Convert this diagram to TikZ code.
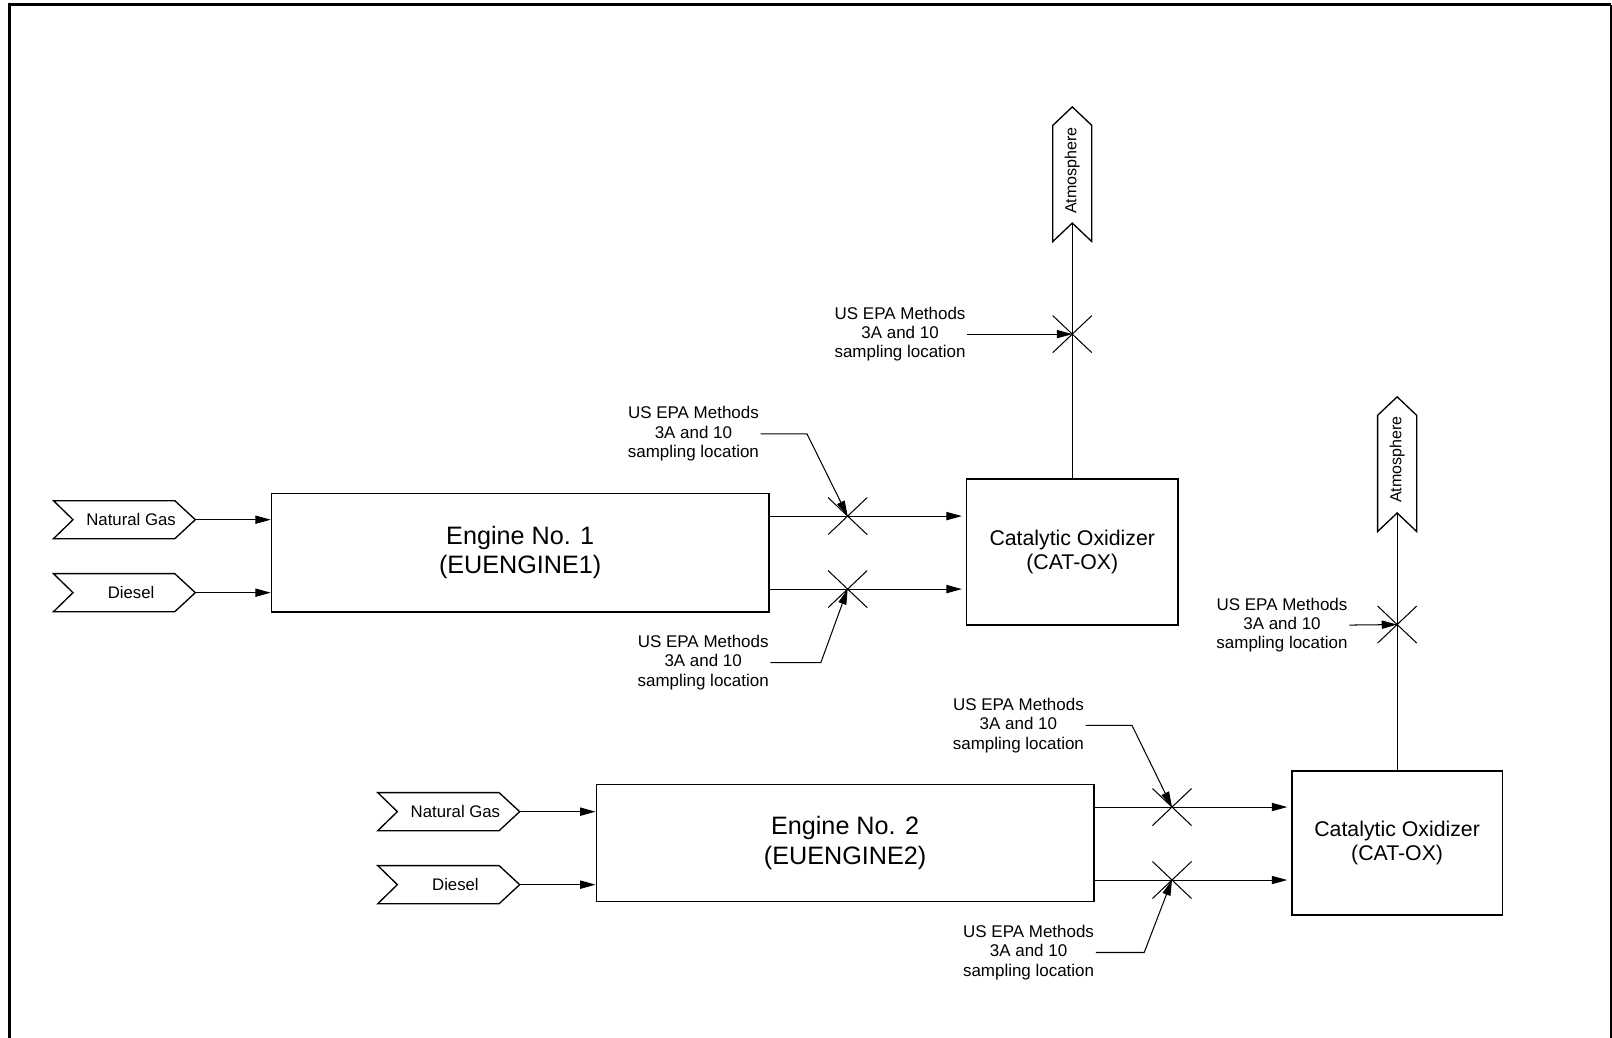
\documentclass[tikz,border=0pt]{standalone}
\usepackage{fontspec}
\setmainfont{Liberation Sans}
\usetikzlibrary{arrows.meta}
\tikzset{
  boxline/.style={draw=black, line width=1.3pt, line join=miter},
  box/.style={boxline, rectangle, inner sep=0pt, align=center},
  flow/.style={draw=black, line width=1pt, -{Triangle[length=15pt,width=8pt]}},
  leader/.style={draw=black, line width=1pt, -{Triangle[length=15pt,width=8pt]}},
  xline/.style={draw=black, line width=1pt},
  fueltext/.style={inner sep=0pt, font=\fontsize{16.3}{19}\selectfont},
  atmtext/.style={inner sep=0pt, rotate=90, font=\fontsize{15.6}{18}\selectfont},
  note/.style={inner sep=1.5pt, align=center, font=\fontsize{16.5}{18.8}\selectfont},
  bigtext/.style={font=\fontsize{24.5}{28.5}\selectfont},
  cattext/.style={font=\fontsize{20.7}{24}\selectfont},
}
\newcommand\fuelchev[4]{%
  \draw[boxline] (#2-69,#3-18.5) -- (#2+49,#3-18.5) -- (#2+69,#3) -- (#2+49,#3+18.5) -- (#2-69,#3+18.5) -- (#2-50,#3) -- cycle;
  \node[fueltext] (#1) at (#2+6.5,#3) {#4};
  \coordinate (#1-tip) at (#2+69,#3);}
\newcommand\atmshape[4]{%
  \draw[boxline] (#2,#3) -- (#2+19,#3+18) -- (#2+19,#3+131) -- (#2,#3+113) -- (#2-19,#3+131) -- (#2-19,#3+18) -- cycle;
  \node[atmtext] (#1) at (#2,#4) {Atmosphere};
  \coordinate (#1-base) at (#2,#3+113);}
\newcommand\xmk[3]{%
  \coordinate (#1) at (#2,#3);
  \draw[xline] (#2-19,#3-18) -- (#2+19,#3+18) (#2-19,#3+18) -- (#2+19,#3-18);}
\begin{document}
\begin{tikzpicture}[x=1pt,y=-1pt]
\useasboundingbox (0,0) rectangle (1568,1009);
% frame
\draw[line width=3pt] (9,1012) -- (9,4.5) -- (1567,4.5);
\draw[line width=2pt] (1567,4.5) -- (1567,1012);

% engines and oxidizers
\node[box, bigtext, minimum width=484pt, minimum height=115.5pt] (eng1) at (506,537.5) {Engine No. 1\\(EUENGINE1)};
\node[box, bigtext, minimum width=484pt, minimum height=114pt] (eng2) at (822,820) {Engine No. 2\\(EUENGINE2)};
\node[box, cattext, minimum width=205.5pt, minimum height=142pt] (cat1) at (1043,537) {Catalytic Oxidizer\\(CAT-OX)};
\node[box, cattext, minimum width=204.5pt, minimum height=140pt] (cat2) at (1359,820) {Catalytic Oxidizer\\(CAT-OX)};

% fuel inputs
\fuelchev{ng1}{121}{505.5}{Natural Gas}
\fuelchev{ds1}{121}{576.5}{Diesel}
\fuelchev{ng2}{436.5}{789.5}{Natural Gas}
\fuelchev{ds2}{436.5}{860.5}{Diesel}
\draw[flow] (ng1-tip) -- (ng1-tip -| eng1.west);
\draw[flow] (ds1-tip) -- (ds1-tip -| eng1.west);
\draw[flow] (ng2-tip) -- (ng2-tip -| eng2.west);
\draw[flow] (ds2-tip) -- (ds2-tip -| eng2.west);

% atmosphere outlets
\atmshape{atm1}{1043}{104}{166}
\atmshape{atm2}{1359}{386}{447}

% sampling points
\xmk{xa}{824.5}{502}
\xmk{xb}{824.5}{573}
\xmk{xc}{1043}{325}
\xmk{xd}{1140}{785}
\xmk{xe}{1140}{856}
\xmk{xf}{1359}{607.5}

% exhaust flows
\draw[flow, shorten >=4pt] (eng1.east |- xa) -- (xa -| cat1.west);
\draw[flow, shorten >=4pt] (eng1.east |- xb) -- (xb -| cat1.west);
\draw[flow, shorten >=4pt] (eng2.east |- xd) -- (xd -| cat2.west);
\draw[flow, shorten >=4pt] (eng2.east |- xe) -- (xe -| cat2.west);
\draw[xline] (cat1.north) -- (atm1-base);
\draw[xline] (cat2.north) -- (atm2-base);

% sampling notes
\node[note] (la) at (674.5,422) {US EPA Methods\\3A and 10\\sampling location};
\node[note] (lb) at (684,644.5) {US EPA Methods\\3A and 10\\sampling location};
\node[note] (lc) at (875.5,325) {US EPA Methods\\3A and 10\\sampling location};
\node[note] (ld) at (990.6,705.5) {US EPA Methods\\3A and 10\\sampling location};
\node[note] (le) at (1000.5,926.5) {US EPA Methods\\3A and 10\\sampling location};
\node[note] (lf) at (1247,608) {US EPA Methods\\3A and 10\\sampling location};

\draw[leader] (la.east) -- ++(45,0) -- (xa);
\draw[leader] (lb.east) -- ++(49,0) -- (xb);
\draw[leader] (lc.east) -- (xc);
\draw[leader] (ld.east) -- ++(45,0) -- (xd);
\draw[leader] (le.east) -- ++(47,0) -- (xe);
\draw[leader] (lf.east) -- (xf);
\end{tikzpicture}
\end{document}
